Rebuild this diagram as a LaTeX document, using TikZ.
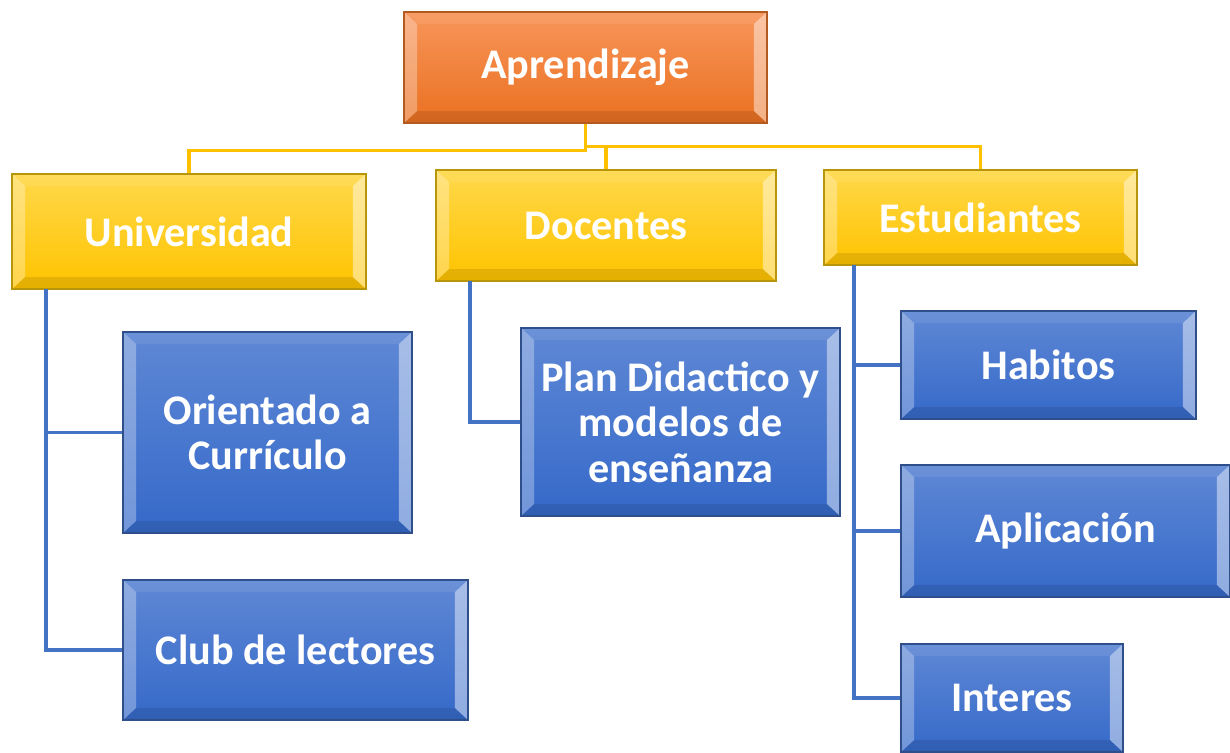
\documentclass[tikz,border=0pt]{standalone}
\usepackage{fontspec}
\setmainfont{Carlito}
\definecolor{orangetop}{HTML}{F8955A}
\definecolor{orangebot}{HTML}{EA7121}
\definecolor{orangeedge}{HTML}{B35A20}
\definecolor{yellowtop}{HTML}{FFD84A}
\definecolor{yellowbot}{HTML}{FFC400}
\definecolor{yellowedge}{HTML}{B8960C}
\definecolor{bluetop}{HTML}{5F88D5}
\definecolor{bluebot}{HTML}{3569C9}
\definecolor{blueedge}{HTML}{2F4F8A}
\definecolor{yline}{HTML}{FFC000}
\definecolor{bline}{HTML}{4472C4}
\newcommand{\bvx}{0.26cm}
\newcommand{\bvy}{0.24cm}

\begin{document}
\begin{tikzpicture}[x=0.02cm, y=-0.02cm,
  box/.style={rectangle, inner sep=0pt, align=center, text=white,
    font=\fontsize{24}{26}\selectfont\bfseries, line width=0.8pt,
    path picture={
      \coordinate (NW) at (path picture bounding box.north west);
      \coordinate (NE) at (path picture bounding box.north east);
      \coordinate (SW) at (path picture bounding box.south west);
      \coordinate (SE) at (path picture bounding box.south east);
      \fill[white, opacity=0.08] (NW) -- (NE) -- ([shift={(-\bvx,-\bvy)}]NE) -- ([shift={(\bvx,-\bvy)}]NW) -- cycle;
      \fill[black, opacity=0.10] (SW) -- (SE) -- ([shift={(-\bvx,\bvy)}]SE) -- ([shift={(\bvx,\bvy)}]SW) -- cycle;
      \fill[white, opacity=0.30] (NW) -- ([shift={(\bvx,-\bvy)}]NW) -- ([shift={(\bvx,\bvy)}]SW) -- (SW) -- cycle;
      \fill[white, opacity=0.45] (NE) -- ([shift={(-\bvx,-\bvy)}]NE) -- ([shift={(-\bvx,\bvy)}]SE) -- (SE) -- cycle;
    }},
  orangebox/.style={box, draw=orangeedge, top color=orangetop, bottom color=orangebot},
  yellowbox/.style={box, draw=yellowedge, top color=yellowtop, bottom color=yellowbot},
  bluebox/.style={box, draw=blueedge, top color=bluetop, bottom color=bluebot},
  yconn/.style={draw=yline, line width=2pt},
  bconn/.style={draw=bline, line width=2pt}]
  \useasboundingbox (0,0) rectangle (1230,752);

  % top level
  \node (apr) [orangebox, minimum width=7.26cm, minimum height=2.22cm] at (585.5,67.5) {Aprendizaje};

  % second level
  \node (uni) [yellowbox, minimum width=7.08cm, minimum height=2.30cm] at (189,231.5) {Universidad};
  \node (doc) [yellowbox, minimum width=6.80cm, minimum height=2.22cm] at (606,225.5) {Docentes};
  \node (est) [yellowbox, minimum width=6.26cm, minimum height=1.90cm] at (980.5,217.5) {Estudiantes};

  % third level
  \node (ori) [bluebox, minimum width=5.78cm, minimum height=4.02cm] at (267.5,432.5) {Orientado a\\Currículo};
  \node (club) [bluebox, minimum width=6.90cm, minimum height=2.80cm] at (295.5,650) {Club de lectores};
  \node (plan) [bluebox, minimum width=6.38cm, minimum height=3.76cm] at (680.5,422) {Plan Didactico y\\modelos de\\enseñanza};
  \node (hab) [bluebox, minimum width=5.90cm, minimum height=2.16cm] at (1048.5,365) {Habitos};
  \node (apl) [bluebox, minimum width=6.58cm, minimum height=2.64cm] at (1065.5,531) {Aplicación};
  \node (int) [bluebox, minimum width=4.44cm, minimum height=2.16cm] at (1012,698) {Interes};

  % yellow links
  \draw[yconn] (apr.south) -- ++(0,27) -| (uni.north);
  \draw[yconn] (apr.south) -- ++(0,23) -| (est.north);
  \draw[yconn] (doc.north) -- ++(0,-24);

  % blue links
  \coordinate (uspine) at (46,289);
  \coordinate (dspine) at (470,281);
  \coordinate (espine) at (854,265);
  \draw[bconn] (uspine) |- (club.west);
  \draw[bconn] (uspine |- ori.west) -- (ori.west);
  \draw[bconn] (dspine) |- (plan.west);
  \draw[bconn] (espine) |- (int.west);
  \draw[bconn] (espine |- hab.west) -- (hab.west);
  \draw[bconn] (espine |- apl.west) -- (apl.west);
\end{tikzpicture}
\end{document}
